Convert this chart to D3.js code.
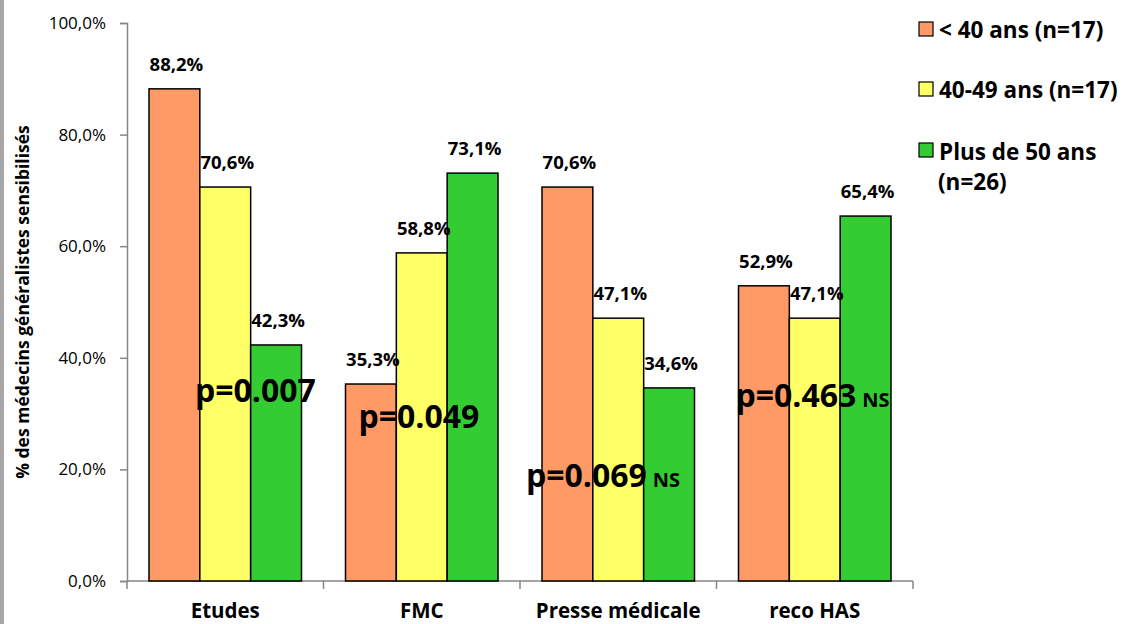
<!DOCTYPE html>
<html>
<head>
<meta charset="utf-8">
<style>
  body { margin: 0; background: #fff; }
  svg text { font-family: 'Open Sans', sans-serif; }
</style>
</head>
<body>
<div id="chart"></div>
<script src="https://cdn.jsdelivr.net/npm/d3@7/dist/d3.min.js"></script>
<script>
// values
var categories = ["Etudes", "FMC", "Presse médicale", "reco HAS"];
var groups = ["< 40 ans (n=17)", "40-49 ans (n=17)", "Plus de 50 ans (n=26)"];
var under40 = [88.2, 35.3, 70.6, 52.9];
var from40to49 = [70.6, 58.8, 47.1, 47.1];
var over50 = [42.3, 73.1, 34.6, 65.4];
var pValues = ["p=0.007", "p=0.049", "p=0.069", "p=0.463"];
var notSignificant = [false, false, true, true];
var yTicks = [0, 20, 40, 60, 80, 100];

var colors = ["#FF9966", "#FFFF66", "#33CC33"];
// where each p label sits: offset from category start, baseline y
var pPos = [[68, 402], [35, 428], [6, 487], [19, 407]];

var W = 1126, H = 624;
var svg = d3.select("#chart").append("svg").attr("width", W).attr("height", H);

// gray frame edge on the left
svg.append("rect").attr("x", 0).attr("y", 0).attr("width", 4).attr("height", H).attr("fill", "#a6a6a6");

var x0 = d3.scaleBand().domain(categories).range([127, 913]).paddingInner(0).paddingOuter(0);
var x1 = d3.scaleBand().domain([0, 1, 2]).range([22, x0.bandwidth() - 22]);
var y = d3.scaleLinear().domain([0, 100]).range([581, 23]);

var fmt = function (v) { return v.toFixed(1).replace(".", ",") + "%"; };

// y axis
var yAxis = d3.axisLeft(y).tickValues(yTicks).tickSize(7).tickFormat(fmt);
var gy = svg.append("g").attr("transform", "translate(127,0)").call(yAxis);
gy.select(".domain").attr("stroke", "#868686").attr("stroke-width", 1.5);
gy.selectAll(".tick line").attr("stroke", "#868686").attr("stroke-width", 1.5);
gy.selectAll(".tick text").attr("x", -21).attr("font-size", 17).attr("fill", "#000");

// x axis
var gx = svg.append("g").attr("transform", "translate(0,581)");
gx.append("line").attr("x1", 127).attr("x2", 913).attr("stroke", "#868686").attr("stroke-width", 1.5);
var tickXs = categories.map(function (c) { return x0(c); }).concat([913]);
gx.selectAll("line.t").data(tickXs).enter().append("line")
  .attr("class", "t").attr("x1", function (d) { return d; }).attr("x2", function (d) { return d; })
  .attr("y1", 0).attr("y2", 8).attr("stroke", "#868686").attr("stroke-width", 1.5);
gx.selectAll("text").data(categories).enter().append("text")
  .attr("x", function (d) { return x0(d) + x0.bandwidth() / 2; })
  .attr("y", 37).attr("text-anchor", "middle")
  .attr("font-size", 20.5).attr("font-weight", "bold").text(function (d) { return d; });

// y title
svg.append("text").attr("transform", "translate(29,302) rotate(-90)")
  .attr("text-anchor", "middle").attr("font-size", 17.5).attr("font-weight", "bold")
  .text("% des médecins  généralistes sensibilisés");

// bars
var series = [under40, from40to49, over50];
var rows = categories.map(function (c, i) {
  return { cat: c, vals: series.map(function (s) { return s[i]; }) };
});
var cg = svg.selectAll("g.cat").data(rows).enter().append("g")
  .attr("class", "cat").attr("transform", function (d) { return "translate(" + x0(d.cat) + ",0)"; });

cg.selectAll("rect").data(function (d) { return d.vals; }).enter().append("rect")
  .attr("x", function (d, j) { return x1(j); })
  .attr("y", function (d) { return y(d); })
  .attr("width", x1.bandwidth())
  .attr("height", function (d) { return y(0) - y(d); })
  .attr("fill", function (d, j) { return colors[j]; })
  .attr("stroke", "#000").attr("stroke-width", 1.5);

cg.selectAll("text.val").data(function (d) { return d.vals; }).enter().append("text")
  .attr("class", "val")
  .attr("x", function (d, j) { return x1(j) + x1.bandwidth() / 2 + 2; })
  .attr("y", function (d) { return y(d) - 18; })
  .attr("text-anchor", "middle").attr("font-size", 18.5).attr("font-weight", "bold")
  .text(fmt);

// p-values
cg.append("text")
  .attr("x", function (d, i) { return pPos[i][0]; })
  .attr("y", function (d, i) { return pPos[i][1]; })
  .attr("font-weight", "bold")
  .each(function (d, i) {
    var t = d3.select(this);
    t.append("tspan").attr("font-size", 32).text(pValues[i]);
    if (notSignificant[i]) t.append("tspan").attr("font-size", 20).attr("dx", 6).text("NS");
  });

// legend
var legY = [[22, 38], [82, 98], [143, 160]];
var lg = svg.append("g");
groups.forEach(function (g, i) {
  lg.append("rect").attr("x", 919).attr("y", legY[i][0]).attr("width", 14).attr("height", 14)
    .attr("fill", colors[i]).attr("stroke", "#000").attr("stroke-width", 1.2);
  var t = lg.append("text").attr("x", 939).attr("y", legY[i][1])
    .attr("font-size", 22.5).attr("font-weight", "bold");
  if (i === 2) {
    t.append("tspan").text("Plus de 50 ans");
    t.append("tspan").attr("x", 938).attr("dy", 30).text("(n=26)");
  } else {
    t.text(g);
  }
});
</script>
</body>
</html>
